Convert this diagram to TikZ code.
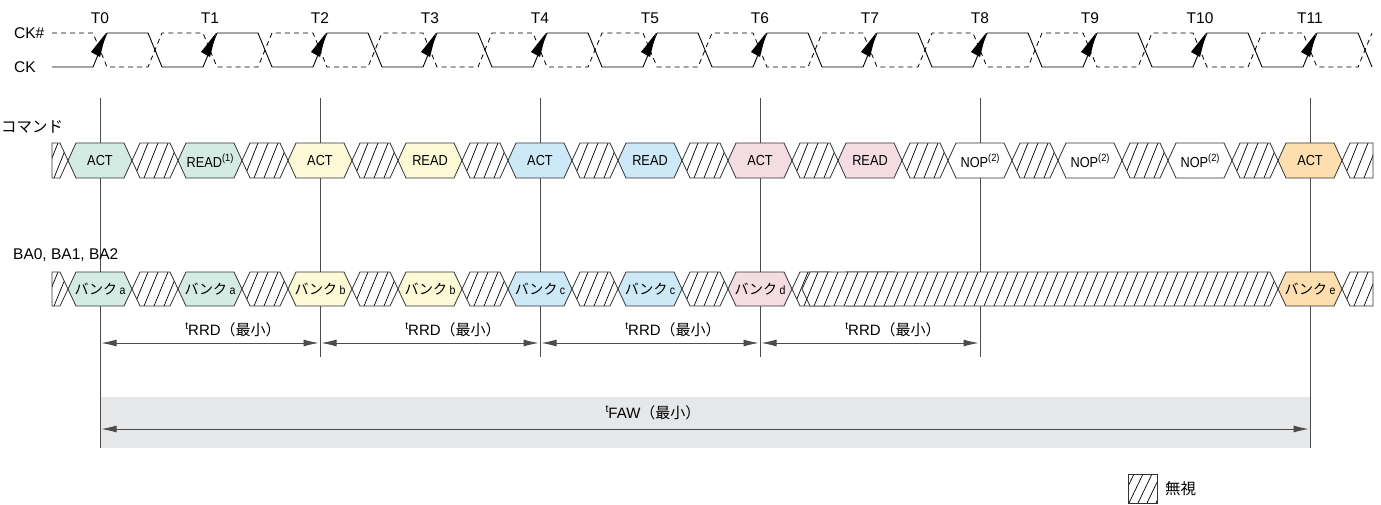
\documentclass[tikz,border=0pt]{standalone}
\usepackage{fontspec}
\setmainfont{Liberation Sans}
\newfontfamily\cond{Liberation Sans}[FakeStretch=0.88]
\newfontfamily\jp{Noto Sans CJK JP}
\usetikzlibrary{arrows.meta}

\definecolor{cgreen}{HTML}{D3EBE2}
\definecolor{cyellow}{HTML}{FDF9D6}
\definecolor{cblue}{HTML}{CDE9F7}
\definecolor{cpink}{HTML}{F3DCE2}
\definecolor{corange}{HTML}{FDDFAF}
\definecolor{bandgray}{HTML}{E6E7E8}

% raised small text (notes, timing prefix)
\newcommand\sups[1]{\raisebox{0.42em}{\fontsize{10.5}{11}\selectfont #1}}

% bus segment outline: x1, x2, centre y, half height, left taper, right taper
\newcommand\segp[6]{(#1,#3) -- (#1+#5,#3-#4) -- (#2-#6,#3-#4) -- (#2,#3) -- (#2-#6,#3+#4) -- (#1+#5,#3+#4) -- cycle}

% "don't care" segment with diagonal hatching
\newcommand\hatchseg[6]{%
  \path[fill=white] \segp{#1}{#2}{#3}{#4}{#5}{#6};
  \begin{scope}
    \clip \segp{#1}{#2}{#3}{#4}{#5}{#6};
    \pgfmathtruncatemacro\hn{(#2-#1)/10+3}
    \foreach \k in {0,...,\hn}
      \draw[hatchln] ({#1-18+10*\k},{#3+#4}) -- ++(14,{-2*#4});
  \end{scope}
  \draw[bus] \segp{#1}{#2}{#3}{#4}{#5}{#6};
}

% valid-data segment: x1, x2, centre y, half height, fill, node name, text
\newcommand\busbox[7]{%
  \filldraw[bus, fill=#5] \segp{#1}{#2}{#3}{#4}{8}{8};
  \node[boxtxt] (#6) at ({(#1+#2)/2},#3) {#7};
}

\newcommand\bank[1]{{\jp\fontsize{14}{16}\selectfont バンク}\,{\fontsize{12}{13}\selectfont #1}}

\begin{document}
\begin{tikzpicture}[x=1pt,y=-1pt,
  lbl/.style={font=\fontsize{15.5}{17}\selectfont, inner sep=0pt},
  dimlbl/.style={font=\fontsize{15}{17}\selectfont, inner sep=0pt},
  jplbl/.style={font=\jp\fontsize{15.5}{17}\selectfont, inner sep=0pt},
  boxtxt/.style={font=\cond\fontsize{14.5}{16}\selectfont, inner sep=0pt},
  clk/.style={line width=0.9pt},
  clkn/.style={line width=0.8pt, dash pattern=on 5pt off 4pt},
  bus/.style={draw=black!80, line width=0.8pt},
  hatchln/.style={line width=0.7pt},
  marker/.style={draw=black!70, line width=0.8pt},
  dim/.style={draw=black!70, line width=0.8pt, shorten <=1.5pt, shorten >=1.5pt,
    {Latex[length=15pt,width=7pt]}-{Latex[length=15pt,width=7pt]}}]

\useasboundingbox (0,0) rectangle (1381,504);

% tFAW band
\fill[bandgray] (100,397) rectangle (1310,448);

% clock edge reference lines
\coordinate (m0a) at (100,98);   \coordinate (m0b) at (100,448);
\coordinate (m11a) at (1310,98); \coordinate (m11b) at (1310,448);
\draw[marker] (m0a) -- (m0b);
\draw[marker] (m11a) -- (m11b);
\foreach \n in {2,4,6,8}{
  \coordinate (m\n a) at ({100+110*\n},98);
  \coordinate (m\n b) at ({100+110*\n},357);
  \draw[marker] (m\n a) -- (m\n b);
}

% clocks
\draw[clk] (52,67) \foreach \n in {0,...,11} { -- ({93+110*\n},67) -- ({107+110*\n},33) -- ({148+110*\n},33) -- ({162+110*\n},67) };
\draw[clkn] (52,33) \foreach \n in {0,...,11} { -- ({93+110*\n},33) -- ({107+110*\n},67) -- ({148+110*\n},67) -- ({162+110*\n},33) };
\foreach \n in {0,...,11}{
  \fill ({106+110*\n},33) -- ({91+110*\n},52) -- ({100+110*\n},57) -- cycle;
  \node[lbl] (t\n) at ({100+110*\n},18) {T\n};
}

% command bus
\hatchseg{52}{68}{160.5}{17.5}{0}{8}
\foreach \n/\col/\txt in {0/cgreen/ACT, 1/cgreen/{READ\sups{(1)}}, 2/cyellow/ACT, 3/cyellow/READ,
    4/cblue/ACT, 5/cblue/READ, 6/cpink/ACT, 7/cpink/READ, 8/white/{NOP\sups{(2)}},
    9/white/{NOP\sups{(2)}}, 10/white/{NOP\sups{(2)}}, 11/corange/ACT}{
  \pgfmathsetmacro\tx{100+110*\n}
  \busbox{\tx-32}{\tx+32}{160.5}{17.5}{\col}{cmd\n}{\txt}
}
\foreach \n in {0,...,10}{
  \pgfmathsetmacro\tx{100+110*\n}
  \hatchseg{\tx+32}{\tx+78}{160.5}{17.5}{8}{8}
}
\hatchseg{1342}{1373}{160.5}{17.5}{8}{0}

% bank address bus
\hatchseg{52}{68}{289}{17}{0}{8}
\foreach \n/\col/\txt in {0/cgreen/a, 1/cgreen/a, 2/cyellow/b, 3/cyellow/b,
    4/cblue/c, 5/cblue/c, 6/cpink/d, 7/cpink/d, 11/corange/e}{
  \pgfmathsetmacro\tx{100+110*\n}
  \busbox{\tx-32}{\tx+32}{289}{17}{\col}{bank\n}{\bank{\txt}}
}
\foreach \n in {0,...,6}{
  \pgfmathsetmacro\tx{100+110*\n}
  \hatchseg{\tx+32}{\tx+78}{289}{17}{8}{8}
}
\hatchseg{802}{1278}{289}{17}{8}{8}
\hatchseg{1342}{1373}{289}{17}{8}{0}

% signal names
\node[lbl, anchor=west] (ckn) at (14,33) {CK\#};
\node[lbl, anchor=west] (ck) at (14,67) {CK};
\node[jplbl, anchor=west] (cmd) at (1,127) {コマンド};
\node[lbl, anchor=west] (ba) at (13,255) {BA0, BA1, BA2};

% tRRD spans
\foreach \a/\b in {0/2,2/4,4/6,6/8}{
  \coordinate (r\a) at ({100+110*\a},343);
  \coordinate (r\b) at ({100+110*\b},343);
  \draw[dim] (r\a) -- (r\b);
  \node[dimlbl] (rrd\a) at ({210+110*\a+23},330) {\sups{t}RRD{\jp （最小）}};
}

% tFAW span
\coordinate (f0) at (100,429);
\coordinate (f11) at (1310,429);
\draw[dim] (f0) -- (f11);
\node[dimlbl] (faw) at (653,413) {\sups{t}FAW{\jp （最小）}};

% key
\coordinate (k0) at (1128,474);
\coordinate (k1) at (1157,503);
\begin{scope}
  \clip (k0) rectangle (k1);
  \foreach \k in {0,...,4}
    \draw[hatchln] ({1120+9*\k},503) -- ++(14,-29);
\end{scope}
\draw[bus] (k0) rectangle (k1);
\node[jplbl, anchor=west] (key) at (1165,489) {無視};

\end{tikzpicture}
\end{document}
